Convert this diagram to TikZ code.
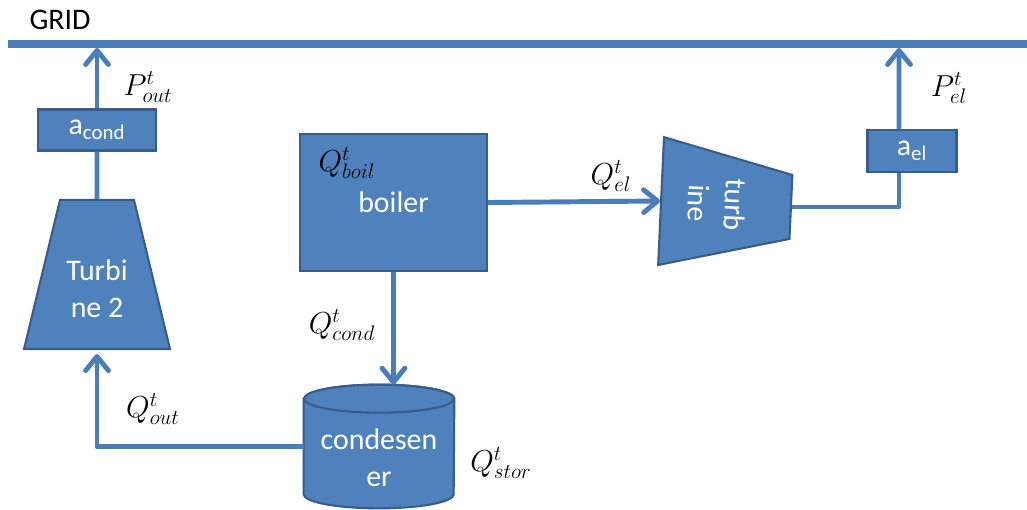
\documentclass[tikz,border=0pt]{standalone}
\usepackage{fontspec}
\setmainfont{Carlito}
\usetikzlibrary{shapes.geometric,arrows.meta}
\definecolor{blokfill}{HTML}{4F81BD}
\definecolor{blokline}{HTML}{385D8A}
\definecolor{linia}{HTML}{4A7EBB}
\begin{document}
\begin{tikzpicture}[x=0.02cm, y=-0.02cm,
    blok/.style={draw=blokline, line width=1.2pt, fill=blokfill, text=white, font=\fontsize{17}{21}\selectfont, align=center, inner sep=0pt},
    turbina/.style={blok, trapezium},
    zbiornik/.style={draw=blokline, line width=1.2pt, fill=blokfill},
    napis/.style={text=white, font=\fontsize{17}{21}\selectfont, align=center, inner sep=0pt},
    przeplyw/.style={draw=linia, line width=2.8pt, line join=round},
    strzalka/.style={przeplyw, -{Straight Barb[length=8pt, width=13pt, round]}},
    opis/.style={font=\fontsize{17}{20}\selectfont, inner sep=0pt}]
        \useasboundingbox (0,0) rectangle (1027,510);

        % Sieć
        \coordinate (siecL) at (8,44);
        \coordinate (siecP) at (1027,44);
        \draw[przeplyw, line width=4.5pt] (siecL) -- (siecP);
        \node[opis] (grid) at (60,20) {GRID};

        % Bloki
        \node[blok, minimum width=2.36cm, minimum height=0.82cm] (acond) at (97,130) {a\textsubscript{cond}};
        \node[turbina, trapezium angle=76.42, text width=1.48cm, text height=1.49cm, text depth=1.49cm] (turb2) at (97,274.5) {};
        \node[napis] (turb2txt) at (97,289) {Turbi\\ne 2};
        \node[blok, minimum width=3.74cm, minimum height=2.74cm] (boiler) at (393.5,202.5) {boiler};
        \node[minimum width=3cm, minimum height=2.46cm, inner sep=0pt] (cond) at (379,446.5) {};
        \filldraw[zbiornik] ([yshift=-0.28cm]cond.north west) -- ([yshift=0.28cm]cond.south west)
            arc[start angle=180, end angle=360, x radius=1.5cm, y radius=0.28cm]
            -- ([yshift=-0.28cm]cond.north east)
            arc[start angle=0, end angle=180, x radius=1.5cm, y radius=0.28cm] -- cycle;
        \draw[zbiornik] ([yshift=-0.28cm]cond.north) ellipse[x radius=1.5cm, y radius=0.28cm];
        \node[napis] (condtxt) at (379,458) {condesen\\er};
        \node[turbina, trapezium angle=76.17, rotate=-92.6, text width=1.28cm, text height=1.3cm, text depth=1.3cm] (turb1) at (726,204) {};
        \node[napis, rotate=-92.6] (turb1txt) at (717,204) {turb\\ine};
        \node[blok, minimum width=1.78cm, minimum height=0.84cm] (ael) at (912,151) {a\textsubscript{el}};

        % Połączenia
        \coordinate (wej1) at (97,48);
        \coordinate (wej2) at (899,48);
        \draw[strzalka] (acond.north) -- (wej1);
        \draw[przeplyw] (turb2.north) -- (acond.south);
        \draw[strzalka] (cond.west) -| ([yshift=-0.08cm]turb2.south);
        \draw[strzalka] (boiler.south) -- (boiler.south |- cond.north);
        \draw[strzalka] (boiler.east) -- (turb1.south);
        \draw[przeplyw] (turb1.north) -| ([xshift=-0.26cm]ael.south);
        \draw[strzalka] ([xshift=-0.26cm]ael.north) -- (wej2);

        % Etykiety
        \node[opis] (pout) at (148,87) {$P^t_{out}$};
        \node[opis] (qboil) at (347,163) {$Q^t_{boil}$};
        \node[opis] (qel) at (611,176) {$Q^t_{el}$};
        \node[opis] (pel) at (949,88) {$P^t_{el}$};
        \node[opis] (qcond) at (342,325) {$Q^t_{cond}$};
        \node[opis] (qout) at (153,409) {$Q^t_{out}$};
        \node[opis] (qstor) at (501,463) {$Q^t_{stor}$};
    \end{tikzpicture}
\end{document}
